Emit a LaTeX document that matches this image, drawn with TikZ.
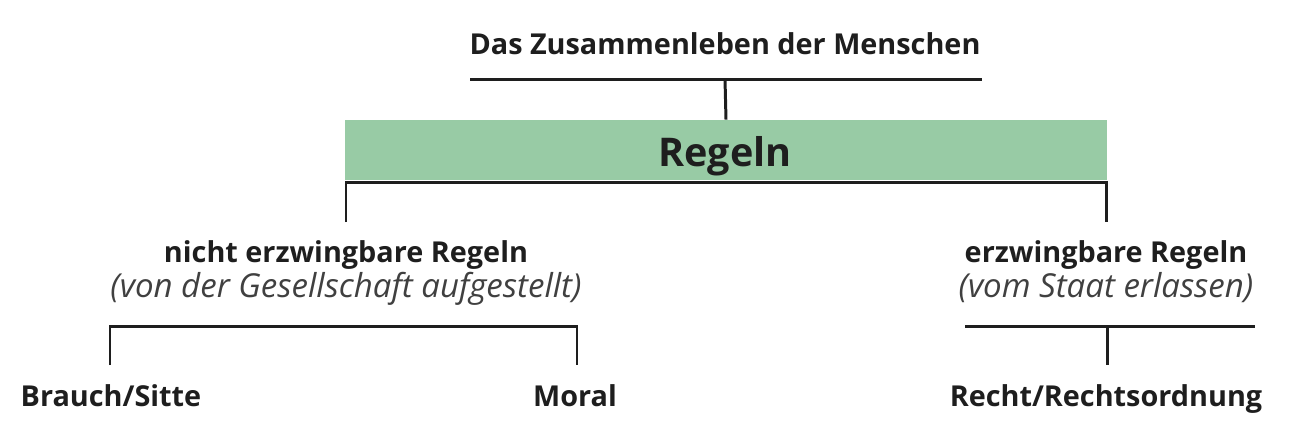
\documentclass[tikz,border=0pt]{standalone}
\usepackage{fontspec}
\setmainfont{Open Sans}
\definecolor{regelgruen}{RGB}{152,203,165}
\definecolor{schrift}{RGB}{30,30,30}
\tikzset{
  kopf/.style = {anchor = base, font = \fontsize{16.4}{20}\selectfont\bfseries, text = schrift, inner sep = 0pt},
  zusatz/.style = {anchor = base, font = \fontsize{18.8}{22}\selectfont\itshape, text = schrift!85, inner sep = 0pt},
  strich/.style = {line width = 1.7pt, schrift}
}

\begin{document}
\begin{tikzpicture}[x = 0.02cm, y = -0.02cm]
\useasboundingbox (0,0) rectangle (1302,441);
% oben
\node[kopf] (menschen) at (725,54) {Das Zusammenleben der Menschen};
\coordinate (mL) at (470,79);
\coordinate (mM) at (725,79);
\coordinate (mR) at (982,79);
\draw[strich] (mL) -- (mR);
\node[fill = regelgruen, minimum width = 15.24cm, minimum height = 1.2cm, inner sep = 0pt] (regeln) at (726,150) {};
\node[kopf, font = \fontsize{22.5}{27}\selectfont\bfseries] (regelnText) at (725,166) {Regeln};
\draw[strich] (mM) -- (regeln.north);
% Verzweigung
\coordinate (rL) at (346,182);
\coordinate (rR) at (1106,182);
\coordinate (rLu) at (346,222);
\coordinate (rRu) at (1106,222);
\draw[strich] (rLu) -- (rL) -- (rR) -- (rRu);
% links
\node[kopf] (nicht) at (346,262) {nicht erzwingbare Regeln};
\node[zusatz] (gesellschaft) at (346,297) {(von der Gesellschaft aufgestellt)};
\coordinate (lL) at (110,326);
\coordinate (lR) at (577,326);
\coordinate (lLu) at (110,365);
\coordinate (lRu) at (577,365);
\draw[strich] (lLu) -- (lL) -- (lR) -- (lRu);
\node[kopf] (brauch) at (111,406) {Brauch/Sitte};
\node[kopf] (moral) at (575,406) {Moral};
% rechts
\node[kopf] (erzwing) at (1106,262) {erzwingbare Regeln};
\node[zusatz] (staat) at (1106,297) {(vom Staat erlassen)};
\coordinate (sL) at (965,326);
\coordinate (sM) at (1107,326);
\coordinate (sR) at (1255,326);
\coordinate (sMu) at (1107,365);
\draw[strich] (sL) -- (sR);
\draw[strich] (sM) -- (sMu);
\node[kopf] (recht) at (1106,406) {Recht/Rechtsordnung};
\end{tikzpicture}
\end{document}
